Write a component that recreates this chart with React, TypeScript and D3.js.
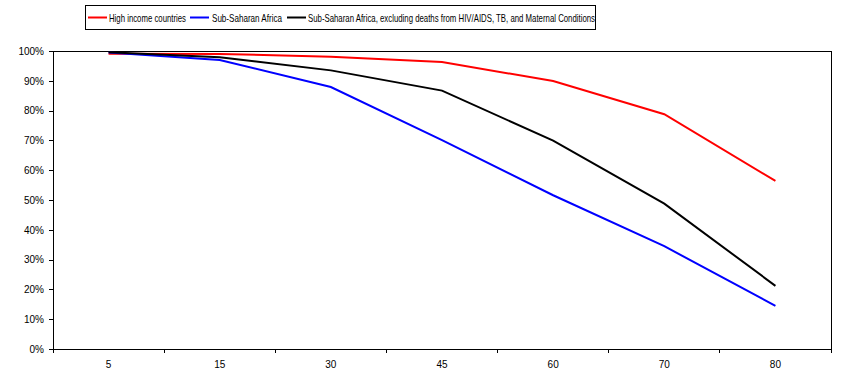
import * as d3 from 'd3'
import { useEffect, useRef } from 'react'

const ages = ['5', '15', '30', '45', '60', '70', '80']
const highIncome = [99.1, 99.0, 98.1, 96.3, 89.9, 78.8, 56.4]
const subSaharan = [99.5, 97.0, 87.9, 70.1, 51.6, 34.5, 14.5]
const subSaharanExcl = [99.6, 97.9, 93.5, 86.7, 69.9, 48.8, 21.2]
const yTicks = [0, 10, 20, 30, 40, 50, 60, 70, 80, 90, 100]

const seriesNames = [
  'High income countries',
  'Sub-Saharan Africa',
  'Sub-Saharan Africa, excluding deaths from HIV/AIDS, TB, and Maternal Conditions',
]
const seriesColors = ['#ff0000', '#0000ff', '#000000']

const W = 846
const H = 391
const margin = { left: 53, top: 51, right: 15, bottom: 42 }
const font = '"Liberation Sans", Arial, sans-serif'

export default function App() {
  const ref = useRef<SVGSVGElement | null>(null)

  useEffect(() => {
    document.body.style.margin = '0'
    const svg = d3.select(ref.current)
    svg.selectAll('*').remove()

    const x = d3
      .scaleBand<string>()
      .domain(ages)
      .range([margin.left, W - margin.right])
    const y = d3
      .scaleLinear()
      .domain([0, 100])
      .range([H - margin.bottom, margin.top])

    const plotTop = y(100)
    const plotBottom = y(0)
    const plotLeft = margin.left
    const plotRight = W - margin.right

    // plot frame
    svg
      .append('rect')
      .attr('x', plotLeft)
      .attr('y', plotTop)
      .attr('width', plotRight - plotLeft)
      .attr('height', plotBottom - plotTop)
      .attr('fill', 'none')
      .attr('stroke', '#000')
      .attr('stroke-width', 1)
      .attr('shape-rendering', 'crispEdges')

    // y axis
    svg
      .append('g')
      .attr('transform', `translate(${plotLeft},0)`)
      .call(
        d3
          .axisLeft(y)
          .tickValues(yTicks)
          .tickSize(4)
          .tickPadding(5)
          .tickFormat((d) => `${d}%`),
      )
      .call((g) => g.select('.domain').remove())
      .call((g) => g.selectAll('line').attr('shape-rendering', 'crispEdges'))
      .call((g) => g.selectAll('text').attr('font-family', font).attr('font-size', 10).attr('fill', '#000'))

    // x axis, ticks sit between categories
    const edges = ages.map((a) => x(a) as number).concat([plotRight])
    const xg = svg.append('g')
    xg.selectAll('line')
      .data(edges)
      .join('line')
      .attr('x1', (d) => d)
      .attr('x2', (d) => d)
      .attr('y1', plotBottom)
      .attr('y2', plotBottom + 4)
      .attr('stroke', '#000')
      .attr('shape-rendering', 'crispEdges')
    xg.selectAll('text')
      .data(ages)
      .join('text')
      .attr('x', (d) => (x(d) as number) + x.bandwidth() / 2)
      .attr('y', plotBottom + 19)
      .attr('text-anchor', 'middle')
      .attr('font-family', font)
      .attr('font-size', 10)
      .text((d) => d)

    // lines
    const line = d3
      .line<number>()
      .x((_, i) => (x(ages[i]) as number) + x.bandwidth() / 2)
      .y((d) => y(d))
    ;[highIncome, subSaharan, subSaharanExcl].forEach((s, i) => {
      svg
        .append('path')
        .datum(s)
        .attr('d', line)
        .attr('fill', 'none')
        .attr('stroke', seriesColors[i])
        .attr('stroke-width', 2)
    })

    // legend
    const lg = svg.append('g')
    lg.append('rect')
      .attr('x', 85.5)
      .attr('y', 5.5)
      .attr('width', 510)
      .attr('height', 24)
      .attr('fill', '#fff')
      .attr('stroke', '#000')
    const items = [
      { lx: 88, tx: 109, tw: 77 },
      { lx: 190, tx: 212, tw: 70 },
      { lx: 287, tx: 308, tw: 287 },
    ]
    items.forEach((it, i) => {
      lg.append('line')
        .attr('x1', it.lx)
        .attr('x2', it.lx + 19)
        .attr('y1', 17.5)
        .attr('y2', 17.5)
        .attr('stroke', seriesColors[i])
        .attr('stroke-width', 2)
      lg.append('text')
        .attr('x', it.tx)
        .attr('y', 21.5)
        .attr('font-family', font)
        .attr('font-size', 11)
        .attr('textLength', it.tw)
        .attr('lengthAdjust', 'spacingAndGlyphs')
        .text(seriesNames[i])
    })
  }, [])

  return (
    <div style={{ position: 'absolute', left: 0, top: 0 }}>
      <svg ref={ref} width={W} height={H} style={{ display: 'block', background: '#fff' }} />
    </div>
  )
}
